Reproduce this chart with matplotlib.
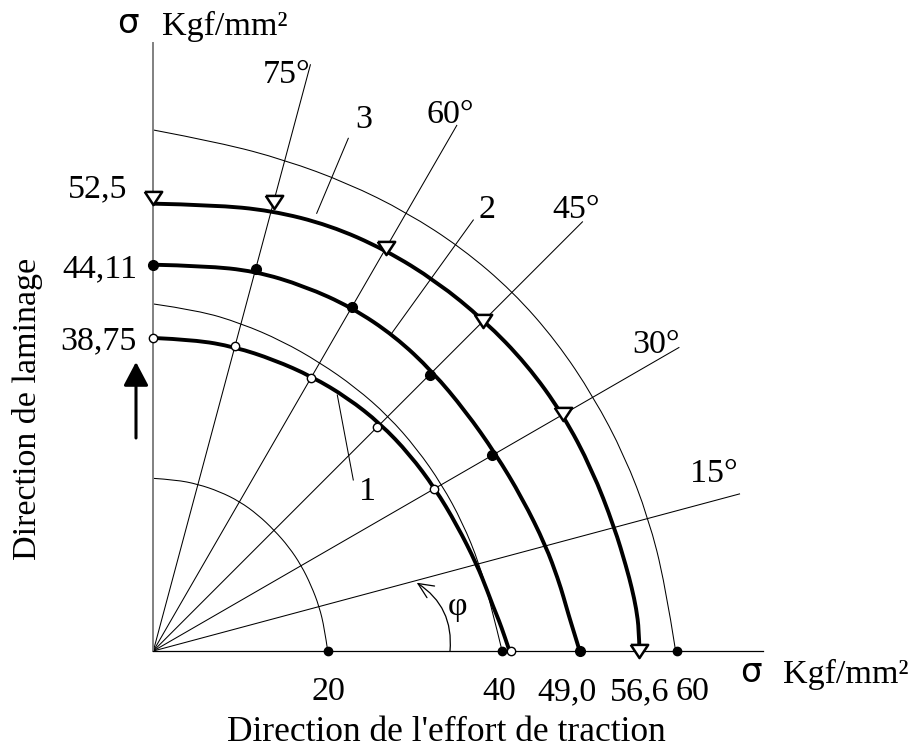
import numpy as np
import matplotlib.pyplot as plt
from matplotlib.path import Path
from matplotlib.patches import PathPatch

plt.rcParams['font.family'] = ['Liberation Serif', 'DejaVu Serif']

# rays drawn from the origin (degrees) and their length
ray_angles = [15, 30, 45, 60, 75]
ray_len = 69.6

# thin reference arcs 20 / 40 / 60 (radius)
arc_angles = [0, 7.5, 15, 22.5, 30, 37.5, 45, 52.5, 60, 67.5, 75, 82.5, 90]
arc20 = [20.0, 19.8, 19.7, 19.6, 19.6, 19.6, 19.6, 19.7, 19.8, 19.8, 19.8, 19.8, 19.8]
arc40 = [40.0, 39.1, 38.7, 38.4, 38.2, 38.1, 38.1, 38.1, 38.2, 38.5, 38.9, 39.4, 39.8]
arc60 = [59.9, 59.2, 58.8, 58.5, 58.3, 58.3, 58.3, 58.2, 58.1, 58.1, 58.3, 58.8, 59.75]

# angles at which the curves were read
curve_angles = [0, 2.5, 5, 7.5, 10, 15, 22.5, 30, 37.5, 45, 52.5, 60, 67.5, 75, 82.5, 90]

# curve 1 (open circles)
c1_rad = [40.85, 40.3, 39.8, 39.3, 38.95, 38.4, 37.7, 37.3, 37.05, 36.85, 36.6, 36.35, 36.15, 36.1, 36.0, 35.9]
# curve 2 (black dots)
c2_rad = [48.9, 48.3, 47.8, 47.45, 47.15, 46.6, 45.8, 45.3, 45.15, 45.3, 45.5, 45.5, 45.3, 45.1, 44.55, 44.3]
# curve 3 (triangles)
c3_rad = [55.75, 55.75, 55.6, 55.35, 55.1, 54.75, 54.45, 54.25, 54.0, 53.65, 53.4, 53.15, 52.85, 52.3, 51.6, 51.3]

# measured points
pt_angles = [0, 30, 45, 60, 75, 90]
c1_pt_rad = [41.0, 37.2, 36.3, 36.1, 36.2, 35.9]
c2_pt_rad = [48.9, 44.9, 44.8, 45.6, 45.4, 44.3]
c3_pt_rad = [55.7, 54.3, 53.5, 53.3, 53.3, 51.9]

# marks on the horizontal axis
axis_dots = [20, 40, 60]

x_labels = ['20', '40', '49,0', '56,6', '60']
y_labels = ['52,5', '44,11', '38,75']
angle_labels = ['75°', '60°', '45°', '30°', '15°']
curve_labels = ['3', '2', '1']


def polar(ang, rad):
    a = np.radians(np.asarray(ang, dtype=float))
    r = np.asarray(rad, dtype=float)
    return r * np.cos(a), r * np.sin(a)


def P(px, py):
    # picture pixel -> data units
    return ((px - 153.3) / 8.72, (651 - py) / 8.72)


def smooth_line(ax, x, y, **kw):
    # quadratic bezier path using the read points as guides
    pts = np.column_stack([x, y])
    verts = [pts[0]]
    codes = [Path.MOVETO]
    for i in range(1, len(pts) - 1):
        if i == len(pts) - 2:
            end = pts[i + 1]
        else:
            end = (pts[i] + pts[i + 1]) / 2
        verts += [pts[i], end]
        codes += [Path.CURVE3, Path.CURVE3]
    ax.add_patch(PathPatch(Path(verts, codes), fill=False,
                           capstyle='butt', joinstyle='round', **kw))


fig = plt.figure(figsize=(9.11, 7.49), dpi=100)
ax = fig.add_axes([0, 0, 1, 1])
ax.set_xlim(-153.3 / 8.72, (911 - 153.3) / 8.72)
ax.set_ylim((651 - 749) / 8.72, 651 / 8.72)
ax.axis('off')

# axes
ax.plot([0, 0], [0, 69.7], color='#808080', lw=1.4, zorder=2)
ax.plot([0, 69.9], [0, 0], color='black', lw=0.9, zorder=2)

# rays
for a in ray_angles:
    x, y = polar([0, a], [0, ray_len])
    ax.plot(x, y, color='black', lw=0.75, zorder=1)

# reference arcs
for arc in [arc20, arc40, arc60]:
    x, y = polar(arc_angles, arc)
    smooth_line(ax, x, y, edgecolor='black', lw=0.75, zorder=1)
ax.plot(axis_dots, [0] * len(axis_dots), 'o', color='black', ms=6, zorder=5)

# the three curves
for rad in [c1_rad, c2_rad, c3_rad]:
    x, y = polar(curve_angles, rad)
    smooth_line(ax, x, y, edgecolor='black', lw=2.8, zorder=3)

tri = [(-1, 0.76), (1, 0.76), (0, -0.76), (-1, 0.76)]
x, y = polar(pt_angles, c1_pt_rad)
ax.plot(x, y, 'o', ms=6, mfc='white', mec='black', mew=1.0, zorder=5)
x, y = polar(pt_angles, c2_pt_rad)
ax.plot(x, y, 'o', ms=7, color='black', zorder=5)
x, y = polar(pt_angles, c3_pt_rad)
ax.plot(x, y, marker=tri, ls='none', ms=12.5, mfc='white', mec='black',
        mew=1.8, zorder=5)

# leader lines for the curve numbers
for (a, b), (c, d) in [((348.3, 138.3), (316.7, 213.3)),
                       ((473.3, 220.0), (391.7, 333.3)),
                       ((353.3, 480.0), (337.3, 395.0))]:
    p, q = P(a, b), P(c, d)
    ax.plot([p[0], q[0]], [p[1], q[1]], color='black', lw=0.75, zorder=1)

fs = 24.5
# angle labels
for txt, (px, py) in zip(angle_labels,
                         [(286.5, 83), (450.5, 123), (576.5, 218), (655.5, 353), (714, 482)]):
    ax.text(*P(px, py), txt, fontsize=fs, ha='center', va='baseline')

for txt, (px, py) in zip(curve_labels, [(363.5, 128), (486.5, 218), (368, 500)]):
    ax.text(*P(px, py), txt, fontsize=fs, ha='center', va='baseline')

# values on the axes
for txt, px in zip(x_labels, [328, 499, 567, 640, 692]):
    ax.text(*P(px, 700), txt, fontsize=fs, ha='center', va='baseline')
for txt, (px, py) in zip(y_labels, [(127, 197), (137, 277), (137, 349)]):
    ax.text(*P(px, py), txt, fontsize=fs, ha='right', va='baseline')

# units
ax.text(*P(127.5, 33), 'σ', fontsize=fs, family=['DejaVu Sans'], ha='center', va='baseline')
ax.text(*P(162, 35), 'Kgf/mm²', fontsize=fs, ha='left', va='baseline')
ax.text(*P(750.5, 682), 'σ', fontsize=fs, family=['DejaVu Sans'], ha='center', va='baseline')
ax.text(*P(783, 683), 'Kgf/mm²', fontsize=fs, ha='left', va='baseline')

ax.text(*P(446, 741), "Direction de l'effort de traction", fontsize=25.5,
        ha='center', va='baseline')
ax.text(*P(28, 409), 'Direction de laminage', fontsize=fs, rotation=90,
        ha='center', va='center')

# arrow of the rolling direction
ax.annotate('', xy=P(136, 362), xytext=P(136, 438),
            arrowprops=dict(arrowstyle='-|>,head_length=0.72,head_width=0.38',
                            lw=2.2, color='black', mutation_scale=20,
                            shrinkA=0, shrinkB=0))

# angle phi
ax.annotate('', xy=P(416.7, 582.7), xytext=P(450, 651),
            arrowprops=dict(arrowstyle='->,head_length=0.55,head_width=0.25',
                            connectionstyle='arc3,rad=0.3', lw=0.9,
                            color='black', mutation_scale=20,
                            shrinkA=0, shrinkB=0))
ax.text(*P(457.5, 615), 'φ', fontsize=fs, ha='center', va='baseline')

fig.savefig('out.png', dpi=100)
